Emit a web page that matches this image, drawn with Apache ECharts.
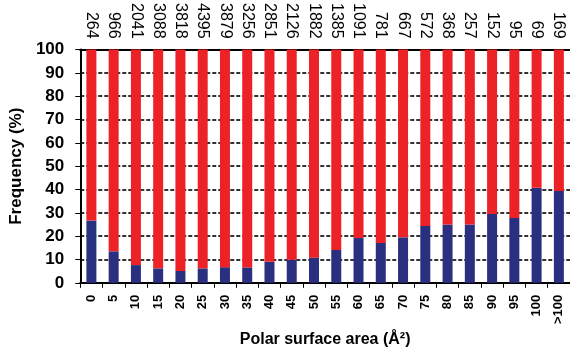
<!DOCTYPE html>
<html>
<head>
<meta charset="utf-8">
<script src="https://cdn.jsdelivr.net/npm/echarts@6/dist/echarts.min.js"></script>
<style>
html,body{margin:0;padding:0;background:#fff;}
#chart{width:570px;height:353px;}
</style>
</head>
<body>
<div id="chart"></div>
<script>
var categories = ['0','5','10','15','20','25','30','35','40','45','50','55','60','65','70','75','80','85','90','95','100','>100'];
var counts = [264,966,2041,3088,3818,4395,3879,3256,2851,2126,1882,1385,1091,781,667,572,368,257,152,95,69,169];
var bluePct = [26.7,13.5,7.6,6.2,5.1,6.2,6.7,6.6,9.0,9.9,10.8,14.1,19.2,17.1,19.5,24.4,25.0,25.0,29.5,27.8,40.8,39.4];
var redPct = [73.3,86.5,92.4,93.8,94.9,93.8,93.3,93.4,91.0,90.1,89.2,85.9,80.8,82.9,80.5,75.6,75.0,75.0,70.5,72.2,59.2,60.6];
var yTicks = [0,10,20,30,40,50,60,70,80,90,100];

var FONT = 'Liberation Sans, Arial, sans-serif';
var chart = echarts.init(document.getElementById('chart'), null, {renderer:'canvas'});
chart.setOption({
  animation:false,
  backgroundColor:'#fff',
  grid:{left:78, top:48, width:499, bottom:66.5, containLabel:false},
  xAxis:[{
    type:'category', data:categories, position:'bottom',
    axisLine:{show:true, lineStyle:{color:'#000', width:2}},
    axisTick:{show:true, alignWithLabel:false, length:5, lineStyle:{color:'#000', width:1}},
    axisLabel:{rotate:90, interval:0, margin:12, color:'#000', fontFamily:FONT, fontWeight:'bold', fontSize:13},
    name:'Polar surface area (Å²)', nameLocation:'middle', nameGap:46,
    nameTextStyle:{color:'#000', fontFamily:FONT, fontWeight:'bold', fontSize:16}
  },{
    type:'category', data:counts.map(String), position:'top',
    axisLine:{show:true, lineStyle:{color:'#000', width:2}},
    axisTick:{show:false},
    axisLabel:{rotate:90, interval:0, margin:11, color:'#000', fontFamily:FONT, fontSize:16}
  }],
  yAxis:{
    type:'value', min:0, max:100, interval:10,
    axisLine:{show:true, lineStyle:{color:'#000', width:2}},
    axisTick:{show:true, inside:false, length:5, lineStyle:{color:'#000', width:1}},
    axisLabel:{margin:16, color:'#000', fontFamily:FONT, fontWeight:'bold', fontSize:17,
      formatter:function(v){return yTicks.indexOf(v)>=0 ? String(v) : '';}},
    splitLine:{show:true, lineStyle:{color:'#333', width:2, type:[4,2]}},
    name:'Frequency (%)', nameLocation:'middle', nameGap:41,
    nameTextStyle:{color:'#000', fontFamily:FONT, fontWeight:'bold', fontSize:17}
  },
  series:[
    {type:'bar', stack:'a', data:bluePct, barWidth:10, itemStyle:{color:'#2b2f7f'}},
    {type:'bar', stack:'a', data:redPct, barWidth:10, itemStyle:{color:'#ec2227'}}
  ]
});
</script>
</body>
</html>
